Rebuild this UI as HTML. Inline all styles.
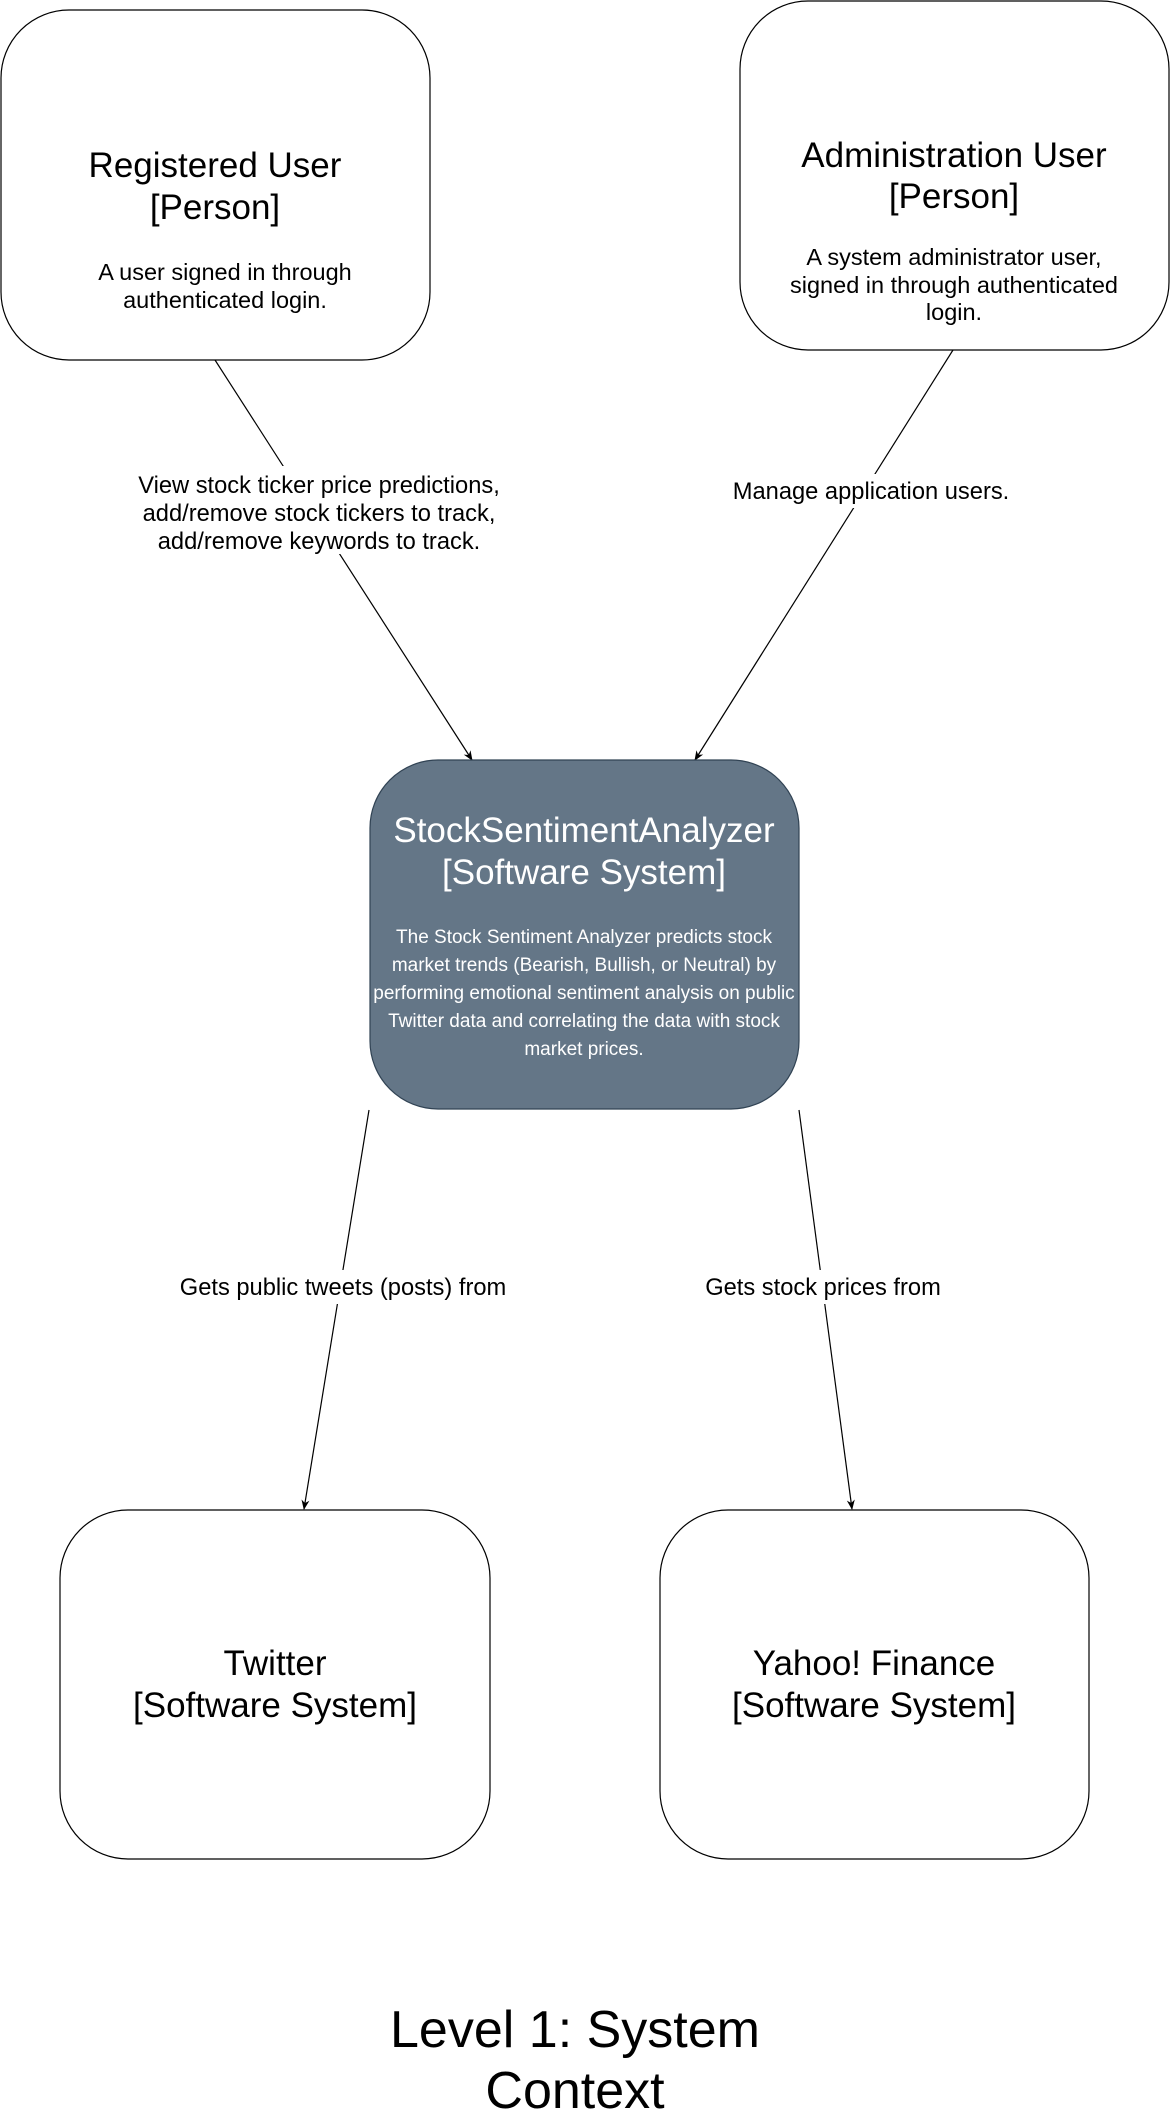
<!DOCTYPE html>
<html><head><meta charset="utf-8"><style>html,body{margin:0;padding:0;background:#fff}svg{display:block}</style></head>
<body>
<svg width="1171" height="2122" viewBox="0 0 1171 2122" xmlns="http://www.w3.org/2000/svg" font-family="Liberation Sans, Arial, sans-serif">
<defs><marker id="a" markerWidth="10" markerHeight="10" refX="9" refY="5" orient="auto" markerUnits="userSpaceOnUse"><path d="M0,1 L10,5 L0,9 L3,5 Z" fill="#000"/></marker></defs>
<g fill="none" stroke="#000" stroke-width="1.2">
<line x1="215" y1="360" x2="472" y2="760" marker-end="url(#a)"/>
<line x1="953" y1="350" x2="695" y2="760" marker-end="url(#a)"/>
<line x1="369" y1="1110" x2="304" y2="1509" marker-end="url(#a)"/>
<line x1="799" y1="1110" x2="852" y2="1509" marker-end="url(#a)"/>
</g>
<rect x="1" y="10" width="429" height="350" rx="68" fill="#fff" stroke="#000" stroke-width="1.2"/>
<rect x="740" y="1" width="429" height="349" rx="68" fill="#fff" stroke="#000" stroke-width="1.2"/>
<rect x="370" y="760" width="429" height="349" rx="68" fill="#647687" stroke="#314354" stroke-width="1.2"/>
<rect x="60" y="1510" width="430" height="349" rx="68" fill="#fff" stroke="#000" stroke-width="1.2"/>
<rect x="660" y="1510" width="429" height="349" rx="68" fill="#fff" stroke="#000" stroke-width="1.2"/>
<rect x="125" y="466" width="388" height="88" fill="#fff"/>
<rect x="720" y="474" width="300" height="34" fill="#fff"/>
<rect x="165" y="1270" width="354" height="34" fill="#fff"/>
<rect x="695" y="1270" width="254" height="34" fill="#fff"/>
<g text-anchor="middle" fill="#000">
<text font-size="35" x="215" y="177">Registered User</text>
<text font-size="35" x="215" y="219">[Person]</text>
<text font-size="23.5" x="225" y="280">A user signed in through</text>
<text font-size="23.5" x="225" y="308">authenticated login.</text>
<text font-size="35" x="954" y="167">Administration User</text>
<text font-size="35" x="954" y="208">[Person]</text>
<text font-size="23.5" x="954" y="265">A system administrator user,</text>
<text font-size="23.5" x="954" y="293">signed in through authenticated</text>
<text font-size="23.5" x="954" y="320">login.</text>
<g fill="#fff">
<text font-size="35" x="584" y="842">StockSentimentAnalyzer</text>
<text font-size="35" x="584" y="884">[Software System]</text>
<text font-size="19" x="584" y="943">The Stock Sentiment Analyzer predicts stock</text>
<text font-size="19" x="584" y="971">market trends (Bearish, Bullish, or Neutral) by</text>
<text font-size="19" x="584" y="999">performing emotional sentiment analysis on public</text>
<text font-size="19" x="584" y="1027">Twitter data and correlating the data with stock</text>
<text font-size="19" x="584" y="1055">market prices.</text>
</g>
<text font-size="35" x="275" y="1675">Twitter</text>
<text font-size="35" x="275" y="1717">[Software System]</text>
<text font-size="35" x="874" y="1675">Yahoo! Finance</text>
<text font-size="35" x="874" y="1717">[Software System]</text>
<text font-size="23.7" x="319" y="493">View stock ticker price predictions,</text>
<text font-size="23.7" x="319" y="521">add/remove stock tickers to track,</text>
<text font-size="23.7" x="319" y="549">add/remove keywords to track.</text>
<text font-size="23.7" x="871" y="499">Manage application users.</text>
<text font-size="23.7" x="343" y="1295">Gets public tweets (posts) from</text>
<text font-size="23.7" x="823" y="1295">Gets stock prices from</text>
<text font-size="52" x="575" y="2047">Level 1: System</text>
<text font-size="52" x="575" y="2108">Context</text>
</g>
</svg>
</body></html>
